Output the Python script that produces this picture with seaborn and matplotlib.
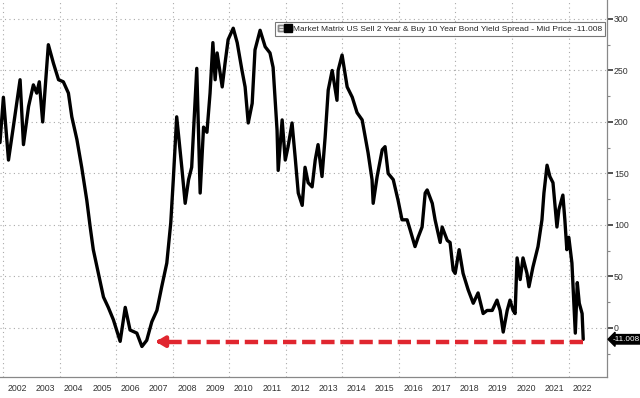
import numpy as np
import matplotlib
matplotlib.use("Agg")
import matplotlib.pyplot as plt
import matplotlib.transforms as mtransforms
from matplotlib.lines import Line2D
from matplotlib.legend_handler import HandlerTuple
import seaborn as sns

# US 2s10s spread (bp), x in decimal years
years = [2001.89, 2002.01, 2002.19, 2002.36, 2002.60, 2002.72, 2002.90, 2003.07, 2003.19, 2003.28,
         2003.40, 2003.49, 2003.60, 2003.78, 2003.96, 2004.13, 2004.31, 2004.43, 2004.61, 2004.78,
         2004.96, 2005.08, 2005.19, 2005.37, 2005.55, 2005.72, 2005.90, 2006.14, 2006.32, 2006.49,
         2006.73, 2006.91, 2007.08, 2007.26, 2007.44, 2007.61, 2007.79, 2007.93, 2008.02, 2008.14,
         2008.32, 2008.44, 2008.56, 2008.67, 2008.85, 2008.97, 2009.09, 2009.21, 2009.32, 2009.42,
         2009.50, 2009.57, 2009.75, 2009.85, 2009.96, 2010.14, 2010.28, 2010.45, 2010.56, 2010.67,
         2010.81, 2010.91, 2011.09, 2011.27, 2011.44, 2011.55, 2011.69, 2011.73, 2011.87, 2011.98,
         2012.08, 2012.22, 2012.33, 2012.44, 2012.58, 2012.68, 2012.79, 2012.93, 2013.04, 2013.14,
         2013.28, 2013.39, 2013.50, 2013.64, 2013.81, 2013.85, 2013.99, 2014.17, 2014.35, 2014.52,
         2014.70, 2014.81, 2014.91, 2015.05, 2015.09, 2015.23, 2015.41, 2015.51, 2015.62, 2015.80,
         2015.97, 2016.11, 2016.29, 2016.40, 2016.57, 2016.68, 2016.82, 2016.93, 2017.00, 2017.18,
         2017.28, 2017.46, 2017.53, 2017.71, 2017.81, 2017.92, 2017.99, 2018.13, 2018.27, 2018.45,
         2018.63, 2018.80, 2018.98, 2019.12, 2019.30, 2019.47, 2019.58, 2019.69, 2019.83, 2019.93,
         2020.04, 2020.11, 2020.18, 2020.29, 2020.39, 2020.53, 2020.60, 2020.74, 2020.92, 2021.06,
         2021.13, 2021.24, 2021.34, 2021.45, 2021.59, 2021.66, 2021.80, 2021.87, 2021.94, 2022.01,
         2022.12, 2022.16, 2022.24, 2022.31, 2022.38, 2022.48, 2022.52]
spread = [180, 224, 163, 195, 241, 178, 215, 236, 228, 239,
          200, 234, 275, 257, 241, 239, 228, 205, 183, 156,
          124, 98, 76, 53, 30, 20, 8, -13, 20, -2,
          -5, -18, -12, 6, 17, 40, 63, 102, 144, 205,
          156, 121, 144, 156, 252, 131, 195, 190, 228, 277,
          241, 267, 234, 257, 280, 291, 277, 250, 234, 199,
          218, 270, 289, 273, 267, 253, 192, 153, 202, 163,
          176, 199, 166, 131, 119, 156, 141, 137, 163, 178,
          147, 185, 231, 250, 221, 250, 265, 234, 224, 209,
          202, 185, 170, 144, 121, 147, 173, 176, 150, 144,
          124, 105, 105, 95, 79, 88, 98, 131, 134, 121,
          105, 83, 98, 85, 83, 56, 53, 76, 53, 37,
          24, 34, 14, 17, 17, 27, 17, -4, 17, 27,
          17, 14, 68, 47, 68, 53, 40, 59, 79, 105,
          131, 158, 147, 141, 98, 115, 129, 105, 76, 88,
          63, 40, -5, 44, 24, 14, -11.008]

year_labels = [str(y) for y in range(2002, 2023)]
y_ticks = [0, 50, 100, 150, 200, 250, 300]
last_value = -11.008
legend_text = "Market Matrix US Sell 2 Year & Buy 10 Year Bond Yield Spread - Mid Price -11.008"

sns.set_style("white")
plt.rcParams['font.family'] = ['Liberation Sans', 'DejaVu Sans']

fig = plt.figure(figsize=(6.4, 3.98), dpi=100)
ax = fig.add_axes([0.0, 0.0528, 0.9484, 0.9472])

sns.lineplot(x=years, y=spread, ax=ax, color='black', lw=2.4, zorder=3)

ax.set_xlim(2001.89, 2023.36)
ax.set_ylim(-47.6, 318.4)

# grid: dotted, every 50bp and every second year
for yv in y_ticks:
    ax.axhline(yv, ls=(0, (1, 3)), color='#aaaaaa', lw=0.8, zorder=0)
for yr in range(2002, 2023, 2):
    ax.axvline(yr, ls=(0, (1, 3)), color='#aaaaaa', lw=0.8, zorder=0)

# spines
for s in ['left', 'top']:
    ax.spines[s].set_visible(False)
for s in ['right', 'bottom']:
    ax.spines[s].set_color('#888888')
    ax.spines[s].set_linewidth(0.9)

# y axis on the right
ax.yaxis.tick_right()
ax.set_yticks(y_ticks)
ax.set_yticks(np.arange(-25, 300, 50), minor=True)
ax.tick_params(axis='y', which='major', direction='out', length=4, width=1.2,
               color='#333333', labelsize=6.3, labelcolor='#333333', pad=1)
ax.tick_params(axis='y', which='minor', direction='out', length=2, width=0.8, color='#888888')

# x axis: separators at year boundaries, labels in the middle
ax.set_xticks(range(2002, 2024))
ax.set_xticklabels([])
ax.set_xticks([y + 0.5 for y in range(2002, 2023)], minor=True)
ax.set_xticklabels(year_labels, minor=True)
ax.tick_params(axis='x', which='major', direction='out', length=16, width=0.8, color='#888888')
ax.tick_params(axis='x', which='minor', length=0, labelsize=6.3, labelcolor='#333333', pad=5)
ax.set_xlabel('')
ax.set_ylabel('')

# legend box
h_icon = Line2D([], [], marker=r'$\boxminus$', color='#888888', ls='none', markersize=5)
h_sq = Line2D([], [], marker='s', color='black', ls='none', markersize=6)
leg = ax.legend([(h_icon, h_sq)], [legend_text], loc='upper right', bbox_to_anchor=(0.997, 0.942),
                handler_map={tuple: HandlerTuple(ndivide=None, pad=0.2)},
                frameon=True, fancybox=False, fontsize=6.0, handlelength=1.5,
                handletextpad=0.2, borderpad=0.4, borderaxespad=0)
leg.get_frame().set_edgecolor('#555555')
leg.get_frame().set_linewidth(0.8)

# red dashed arrow from the latest value back to the 2006-07 low
arrow_y = -13.3
arrow_from = 2022.52
arrow_to = 2007.30
red = '#e0262f'
ax.plot([arrow_from, arrow_to + 0.35], [arrow_y, arrow_y], color=red, lw=3.2,
        dashes=(3.0, 1.3), solid_capstyle='butt', dash_capstyle='butt', zorder=4)
ax.annotate('', xy=(arrow_to, arrow_y), xytext=(arrow_to + 0.4, arrow_y),
            arrowprops=dict(arrowstyle='-|>,head_length=0.5,head_width=0.3',
                            color=red, lw=3.2), zorder=5)

# last value tag on the axis
trans = mtransforms.blended_transform_factory(ax.transAxes, ax.transData)
ax.text(1.01, last_value, '-11.008', transform=trans, fontsize=5.9, color='white',
        va='center', ha='left', clip_on=False,
        bbox=dict(boxstyle='larrow,pad=0.15', fc='black', ec='black'))

fig.savefig('out.png', dpi=100)
